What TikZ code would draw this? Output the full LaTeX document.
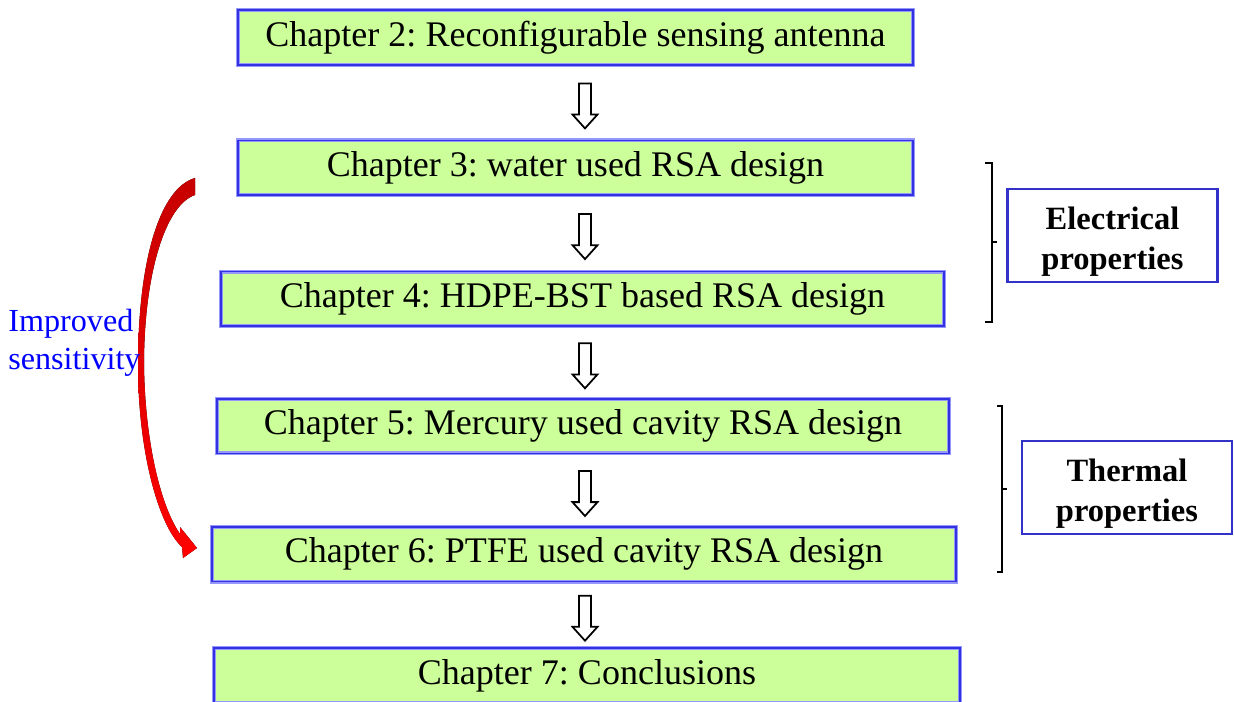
\documentclass[tikz,border=0pt]{standalone}
\usepackage{fontspec}
\setmainfont{Liberation Serif}
\frenchspacing
\usetikzlibrary{positioning, shapes.arrows, calc}
\definecolor{boxgreen}{RGB}{204, 255, 153}
\definecolor{boxblue}{RGB}{50, 50, 225}
\definecolor{edgeblue}{RGB}{150, 150, 255}
\definecolor{labelblue}{RGB}{50, 50, 200}

\begin{document}
\begin{tikzpicture}[x=0.02cm, y=-0.02cm, node distance=1.45cm,
    chapbox/.style={draw=edgeblue, double=boxblue, line width=0.7pt, double distance=0.9pt,
        fill=boxgreen, minimum height=1.09cm, inner sep=0pt,
        font=\fontsize{20.5}{24}\selectfont},
    downarrow/.style={single arrow, draw=black, fill=white, line width=1pt, inner sep=0.1cm,
        shape border rotate=270, minimum height=0.9cm, minimum width=0.5cm,
        single arrow head extend=0.13cm, single arrow tip angle=84},
    propbox/.style={draw=labelblue, line width=1.3pt, minimum width=4.2cm, minimum height=1.85cm},
    proptext/.style={align=center, inner sep=0pt, font=\bfseries\fontsize{18.5}{23}\selectfont},
    bracket/.style={draw=black, line width=1.1pt}]

    \useasboundingbox (0,0) rectangle (1234,702);

    % Chapter chain
    \node[chapbox, minimum width=13.5cm] (b1) at (575.5,37.5) {Chapter 2: Reconfigurable sensing antenna};
    \node[chapbox, minimum width=13.5cm, below=1.49cm of b1] (b2) {Chapter 3: water used RSA design};
    \node[chapbox, minimum width=14.47cm, below=1.51cm of b2, xshift=0.14cm] (b3) {Chapter 4: HDPE-BST based RSA design};
    \node[chapbox, minimum width=14.65cm, below=1.43cm of b3, xshift=0.01cm] (b4) {Chapter 5: Mercury used cavity RSA design};
    \node[chapbox, minimum width=14.89cm, below=1.45cm of b4, xshift=0.02cm] (b5) {Chapter 6: PTFE used cavity RSA design};
    \node[chapbox, minimum width=14.93cm, below=1.31cm of b5, xshift=0.06cm] (b6) {Chapter 7: Conclusions};

    % Hollow arrows between chapters
    \coordinate (spine) at ([xshift=0.19cm]b1.center);
    \foreach \a/\b in {b1/b2, b2/b3, b3/b4, b4/b5, b5/b6}
    {
        \coordinate (m) at ($(\a.south)!0.5!(\b.north)$);
        \node[downarrow] (arr-\a) at (spine |- m) {};
    }

    % Improved sensitivity
    \fill[top color=red!78!black, middle color=red, bottom color=red]
        (195,178) .. controls (160,188) and (138,260) .. (138,365)
        .. controls (138,450) and (158,525) .. (182,547)
        -- (183,558) -- (197,548) -- (180,527) -- (180,534)
        .. controls (160,505) and (145,440) .. (144,365)
        .. controls (144,275) and (165,205) .. (195,195) -- cycle;
    \node[anchor=west, align=left, text=blue, inner sep=0pt,
        font=\fontsize{18.3}{21.5}\selectfont] (gain) at (8,343) {Improved\\sensitivity};

    % Property groups
    \draw[bracket] (985,163) -- (992,163) -- (992,322) -- (985,322);
    \draw[bracket] (992,242) -- (997,242);
    \node[propbox] (elec) at (1112.5,235.5) {};
    \node[proptext] at ([yshift=-0.12cm]elec.center) {Electrical\\properties};

    \draw[bracket] (997,406) -- (1002,406) -- (1002,572) -- (997,572);
    \draw[bracket] (1002,489) -- (1007,489);
    \node[propbox] (therm) at (1127,487.5) {};
    \node[proptext] at ([yshift=-0.12cm]therm.center) {Thermal\\properties};

\end{tikzpicture}
\end{document}
